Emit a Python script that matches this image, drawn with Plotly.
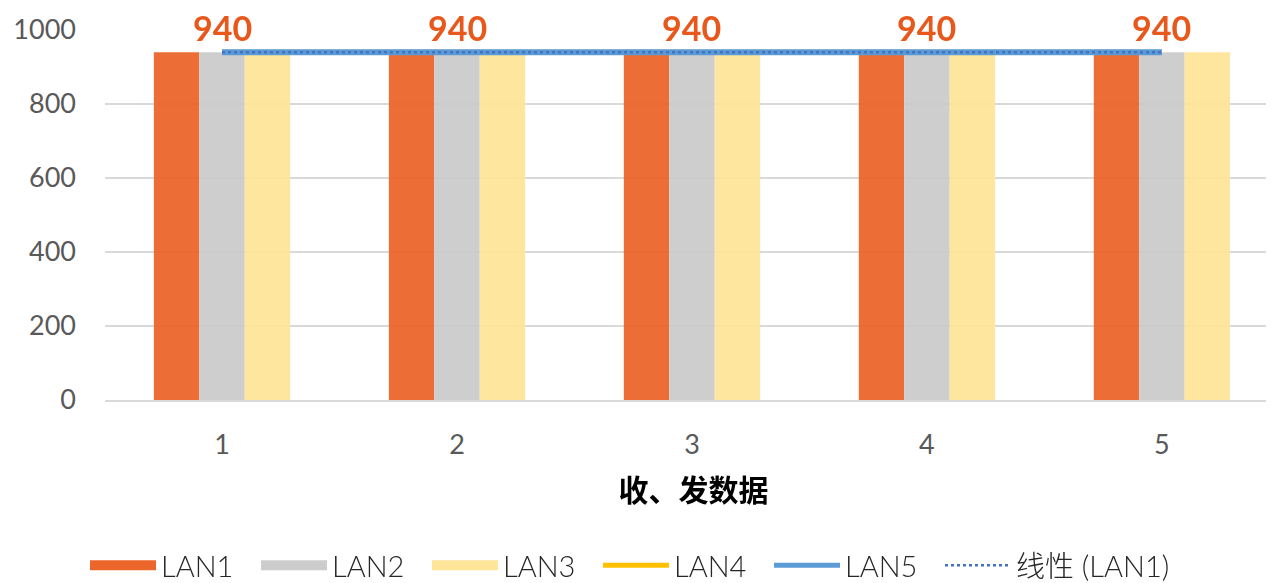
import numpy as np
import plotly.graph_objects as go

categories = [1, 2, 3, 4, 5]
lan1 = [940, 940, 940, 940, 940]
lan2 = [940, 940, 940, 940, 940]
lan3 = [940, 940, 940, 940, 940]
lan4 = [940, 940, 940, 940, 940]
lan5 = [940, 940, 940, 940, 940]
y_ticks = [0, 200, 400, 600, 800, 1000]

c_orange = "rgb(236,102,44)"
c_gray = "rgb(204,204,204)"
c_yellow = "rgb(255,229,153)"
c_lan4 = "#FFC000"
c_lan5 = "#5B9BD5"
c_trend = "#4472C4"

fig = go.Figure()
for name, vals, col in [("LAN1", lan1, c_orange), ("LAN2", lan2, c_gray), ("LAN3", lan3, c_yellow)]:
    fig.add_trace(go.Bar(x=categories, y=vals, name=name, marker=dict(color=col, line=dict(width=0)),
                         opacity=0.95, showlegend=False))

fig.add_trace(go.Scatter(x=categories, y=lan4, name="LAN4", mode="lines",
                         line=dict(color=c_lan4, width=5), showlegend=False))
fig.add_trace(go.Scatter(x=categories, y=lan5, name="LAN5", mode="lines",
                         line=dict(color=c_lan5, width=6), showlegend=False))

coef = np.polyfit(categories, lan1, 1)
trend = np.polyval(coef, categories)
fig.add_trace(go.Scatter(x=categories, y=trend, name="线性 (LAN1)", mode="lines",
                         line=dict(color=c_trend, width=2.5, dash="dot"), showlegend=False))

# data labels
for xc, v in zip(categories, lan4):
    fig.add_annotation(x=xc, y=v, text=str(v), showarrow=False, yanchor="bottom", yshift=2,
                       font=dict(family="Lato", size=34, color="#E8581C", weight="bold"))

# legend entries
for name, col, w, dash in [("LAN1", c_orange, 20, "solid"), ("LAN2", c_gray, 20, "solid"),
                           ("LAN3", c_yellow, 20, "solid"), ("LAN4", c_lan4, 5, "solid"),
                           ("LAN5", c_lan5, 5, "solid"), ("线性 (LAN1)", c_trend, 2.5, "dot")]:
    fig.add_trace(go.Scatter(x=[None], y=[None], name=name, mode="lines",
                             line=dict(color=col, width=w, dash=dash)))
# invisible spacer entry so the last legend text is not clipped
fig.add_trace(go.Scatter(x=[None], y=[None], name=" ", mode="lines",
                         line=dict(color="rgba(0,0,0,0)", width=0), hoverinfo="skip"))

fig.update_layout(
    width=1274, height=583,
    margin=dict(l=97, r=0, t=22, b=189),
    plot_bgcolor="white", paper_bgcolor="white",
    barmode="group", bargap=0.42, bargroupgap=0,
    font=dict(family="Lato", color="#595959"),
    showlegend=True,
    legend=dict(orientation="h", x=-0.006, xanchor="left", y=-0.38, yanchor="top",
                font=dict(family="Lato, Noto Sans CJK SC", size=29, color="#262626", weight=300),
                itemwidth=66, entrywidth=90, entrywidthmode="pixels",
                traceorder="normal", bgcolor="rgba(0,0,0,0)", itemclick=False, itemdoubleclick=False),
    xaxis=dict(range=[0.502, 5.511], tickvals=categories, ticktext=[str(c) for c in categories],
               tickfont=dict(size=27, color="#595959"), showgrid=False, zeroline=False,
               showline=True, linecolor="#D9D9D9", linewidth=1.5, ticks="", ticklabelstandoff=20,
               title=dict(text="收、发数据", font=dict(family="Noto Sans CJK SC", size=30, color="black", weight="bold"),
                          standoff=21)),
    yaxis=dict(range=[0, 1000], tickvals=y_ticks, tickfont=dict(size=27, color="#595959"),
               showgrid=True, gridcolor="#D9D9D9", gridwidth=1.5, zeroline=False,
               ticks="", ticklabelstandoff=28),
)
for tr in fig.data:
    tr.cliponaxis = False

fig.write_html("out.html")
